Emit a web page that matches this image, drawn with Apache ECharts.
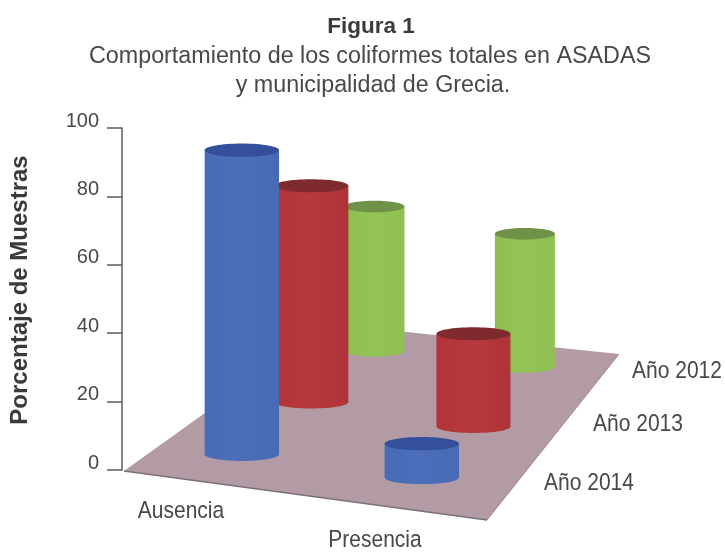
<!DOCTYPE html>
<html><head><meta charset="utf-8">
<style>html,body{margin:0;padding:0;background:#fff}#c{width:725px;height:553px}</style>
<script src="https://cdn.jsdelivr.net/npm/echarts@6/dist/echarts.min.js"></script>
</head><body><div id="c"></div>
<script>
const categories = ['Ausencia', 'Presencia'];
const years = ['Año 2012', 'Año 2013', 'Año 2014'];
const values2012 = [52, 48];
const values2013 = [70, 30];
const values2014 = [90, 10];
const tickLabels = ['0', '20', '40', '60', '80', '100'];

const FONT = '"Liberation Sans", Arial, sans-serif';
const INK = '#47474c';

// floor corners in axis units (hidden x axis, percent y axis)
const floorFL = [0.4, -0.3], floorFR = [73, -14.6], floorBR = [99.4, 33.9], floorBL = [41.4, 42.7];

// homography: unit floor square -> axis units
const H = (function () {
  const [x0, y0] = floorFL, [x1, y1] = floorFR, [x2, y2] = floorBR, [x3, y3] = floorBL;
  const dx1 = x1 - x2, dx2 = x3 - x2, sx = x0 - x1 + x2 - x3;
  const dy1 = y1 - y2, dy2 = y3 - y2, sy = y0 - y1 + y2 - y3;
  const det = dx1 * dy2 - dx2 * dy1;
  const g = (sx * dy2 - dx2 * sy) / det, h = (dx1 * sy - sx * dy1) / det;
  return { a: x1 - x0 + g * x1, b: x3 - x0 + h * x3, c: x0, d: y1 - y0 + g * y1, e: y3 - y0 + h * y3, f: y0, g, h };
})();
function floorPoint(u, v) {
  const w = H.g * u + H.h * v + 1;
  return [(H.a * u + H.b * v + H.c) / w, (H.d * u + H.e * v + H.f) / w];
}

// placement of each row on the floor and its foreshortening
const rowLayouts = {
  'Año 2012': { u: [0.25, 0.752], v: [0.84, 0.84], hs: 0.811, rx: 6.0, ry: 1.7,
    side: ['#8fbf50', '#94c455', '#90c051'], top: '#6f9148' },
  'Año 2013': { u: [0.252, 0.765], v: [0.47, 0.44], hs: 0.904, rx: 7.4, ry: 1.9,
    side: ['#b03438', '#b5393d', '#af3337'], top: '#7f2a2f' },
  'Año 2014': { u: [0.24, 0.755], v: [0.15, 0.15], hs: 0.988, rx: 7.44, ry: 1.95,
    side: ['#486bb6', '#4c6eba', '#476ab5'], top: '#34509a' }
};

function cylinderSeries(name, values) {
  const L = rowLayouts[name];
  return {
    type: 'custom', name, coordinateSystem: 'cartesian2d', clip: false, silent: true,
    data: values.map((v, i) => [i, v]),
    encode: { x: -1, y: 1 },
    renderItem(params, api) {
      const i = api.value(0), val = api.value(1);
      const base = floorPoint(L.u[i], L.v[i]);
      const topY = base[1] + val * L.hs;
      const c0 = api.coord(base), c1 = api.coord([base[0], topY]);
      const e = api.coord([base[0] + L.rx, base[1] + L.ry]);
      const rx = e[0] - c0[0], ry = c0[1] - e[1];
      const grad = new echarts.graphic.LinearGradient(0, 0, 1, 0, [
        { offset: 0, color: L.side[0] }, { offset: 0.5, color: L.side[1] }, { offset: 1, color: L.side[2] }]);
      return {
        type: 'group',
        children: [
          { type: 'ellipse', shape: { cx: c0[0], cy: c0[1], rx, ry }, style: { fill: grad } },
          { type: 'rect', shape: { x: c0[0] - rx, y: c1[1], width: 2 * rx, height: c0[1] - c1[1] }, style: { fill: grad } },
          { type: 'ellipse', shape: { cx: c1[0], cy: c1[1], rx, ry }, style: { fill: L.top } }
        ]
      };
    }
  };
}

const floorSeries = {
  type: 'custom', name: 'Piso', coordinateSystem: 'cartesian2d', clip: false, silent: true,
  data: [[0, 0]], encode: { x: -1, y: 1 },
  renderItem(params, api) {
    const pts = [floorFL, floorFR, floorBR, floorBL].map(p => api.coord(p));
    return {
      type: 'group',
      children: [
        { type: 'polygon', shape: { points: pts }, style: { fill: '#b39ba5' } },
        { type: 'polyline', shape: { points: [pts[0], pts[1]] }, style: { fill: 'none', stroke: '#7c6f7a', lineWidth: 1.6 } },
        { type: 'polyline', shape: { points: [pts[1], pts[2]] }, style: { fill: 'none', stroke: '#a9808f', lineWidth: 1 } }
      ]
    };
  }
};

const chart = echarts.init(document.getElementById('c'), null, { renderer: 'canvas' });
const labelFont = '21px ' + FONT;
function label(text, x, y) {
  return { type: 'text', x, y, scaleY: 1.12, silent: true,
    style: { text, font: labelFont, fill: INK, align: 'center', verticalAlign: 'middle' } };
}
chart.setOption({
  animation: false,
  backgroundColor: '#ffffff',
  title: [
    { text: 'Figura 1', left: 366, top: 10, textAlign: 'center', textStyle: { fontFamily: FONT, fontSize: 22.5, fontWeight: 'bold', color: '#3a3a3e' } },
    { text: 'Comportamiento de los coliformes totales en ASADAS', left: 365, top: 40, textAlign: 'center', textStyle: { fontFamily: FONT, fontSize: 23.3, fontWeight: 'normal', color: INK } },
    { text: 'y municipalidad de Grecia.', left: 368, top: 69, textAlign: 'center', textStyle: { fontFamily: FONT, fontSize: 23.3, fontWeight: 'normal', color: INK } }
  ],
  grid: { left: 122, top: 128, width: 500, height: 342, outerBoundsMode: 'none' },
  xAxis: { type: 'value', min: 0, max: 100, show: false },
  yAxis: {
    type: 'value', min: 0, max: 100, interval: 20,
    name: 'Porcentaje de Muestras', nameLocation: 'middle', nameRotate: 90, nameGap: 90,
    nameTextStyle: { fontFamily: FONT, fontSize: 24, fontWeight: 'bold', color: '#3a3a3e', padding: [0, 0, 0, 18] },
    axisLine: { show: true, lineStyle: { color: '#5a5a60', width: 1.5 } },
    axisTick: { show: true, length: 15, lineStyle: { color: '#5a5a60', width: 1.5 } },
    splitLine: { show: false },
    axisLabel: {
      margin: 23, fontFamily: FONT, fontSize: 20, color: INK, showMinLabel: true, showMaxLabel: true,
      verticalAlign: 'bottom', lineHeight: 14,
      formatter: v => tickLabels[v / 20]
    }
  },
  graphic: [
    label(categories[0], 181, 512),
    label(categories[1], 375, 541),
    label(years[0], 677, 372),
    label(years[1], 638, 425),
    label(years[2], 589, 484)
  ],
  series: [
    floorSeries,
    cylinderSeries(years[0], values2012),
    cylinderSeries(years[1], values2013),
    cylinderSeries(years[2], values2014)
  ]
});
</script></body></html>
